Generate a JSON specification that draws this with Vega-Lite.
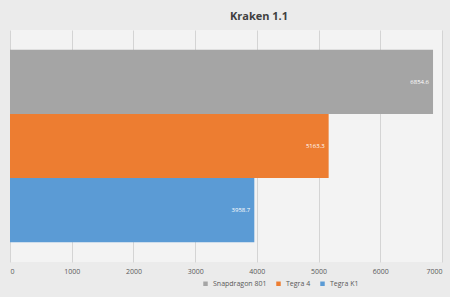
{
  "$schema": "https://vega.github.io/schema/vega-lite/v6.json",
  "autosize": "none",
  "width": 432,
  "height": 232,
  "padding": {"left": 10, "top": 30, "right": 8, "bottom": 35},
  "background": "#ebebeb",
  "title": {"text": "Kraken 1.1", "fontSize": 11, "font": "Open Sans", "fontWeight": "bold", "color": "#404040", "dx": 33, "offset": 8},
  "config": {"view": {"stroke": null, "fill": "#f3f3f3"}},
  "data": {"values": [
    {"device": "Snapdragon 801", "score": 6854.6},
    {"device": "Tegra 4", "score": 5163.3},
    {"device": "Tegra K1", "score": 3958.7}
  ]},
  "encoding": {
    "y": {"field": "device", "type": "nominal", "sort": ["Snapdragon 801", "Tegra 4", "Tegra K1"], "axis": null,
      "scale": {"paddingInner": 0, "paddingOuter": 0.31}},
    "x": {"field": "score", "type": "quantitative", "scale": {"domain": [0, 7000], "nice": false},
      "axis": {"title": null, "values": [0,1000,2000,3000,4000,5000,6000,7000], "format": "d", "grid": true, "gridColor": "#d4d4d4", "domain": false, "ticks": false,
        "labelFontSize": 7, "labelColor": "#595959", "labelFont": "Open Sans", "labelPadding": 5}}
  },
  "layer": [
    {"mark": {"type": "bar"},
      "encoding": {"color": {"field": "device", "type": "nominal",
        "scale": {"domain": ["Snapdragon 801", "Tegra 4", "Tegra K1"], "range": ["#a5a5a5", "#ed7d31", "#5b9bd5"]},
        "legend": {"orient": "none", "legendX": 192, "legendY": 250, "direction": "horizontal", "title": null, "symbolType": "square", "symbolSize": 20, "labelFontSize": 7, "labelColor": "#595959", "labelFont": "Open Sans", "columnPadding": 8, "symbolOffset": 0}}}},
    {"mark": {"type": "text", "align": "right", "dx": -4, "fontSize": 6, "color": "white", "font": "Open Sans"},
      "encoding": {"text": {"field": "score", "type": "quantitative", "format": ".1f"}}}
  ]
}
